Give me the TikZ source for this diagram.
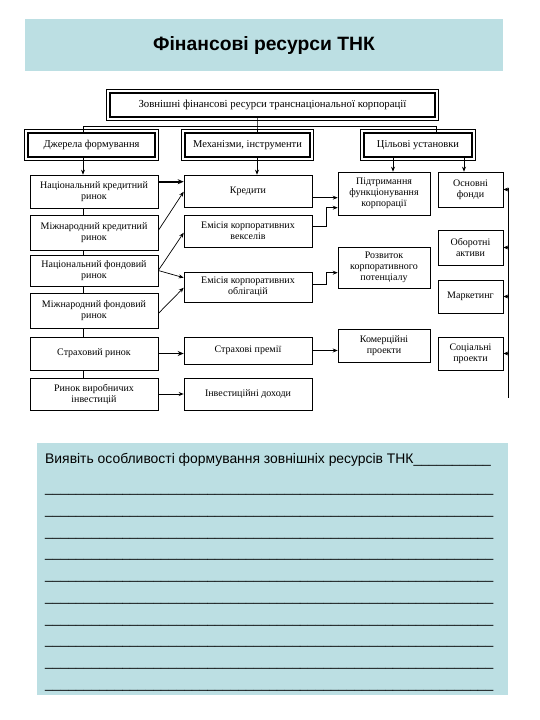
\documentclass[tikz,border=0pt]{standalone}
\usepackage{fontspec}
\setmainfont{Liberation Serif}
\newfontfamily\arialf{Liberation Sans}
\usetikzlibrary{arrows.meta,calc}
\definecolor{panel}{RGB}{188,223,227}
\def\ulrow{\_\_\_\_\_\_\_\_\_\_\_\_\_\_\_\_\_\_\_\_\_\_\_\_\_\_\_\_\_\_\_\_\_\_\_\_\_\_\_\_\_\_\_\_\_\_\_\_\_\_\_\_\_\_\_\_\_\_}
\begin{document}
\begin{tikzpicture}[x=1pt,y=-1pt,
  box/.style={draw, line width=0.6pt, align=center, font=\fontsize{10}{11}\selectfont, inner sep=1pt},
  hdr/.style={draw, line width=2pt, align=center, font=\fontsize{10.5}{11.5}\selectfont, inner sep=1pt, minimum height=24pt},
  conn/.style={line width=0.6pt},
  arr/.style={line width=0.7pt,-{Stealth[length=5pt,width=4pt]}},
  tarr/.style={line width=1.8pt,-{Stealth[length=6pt,width=5pt]}},
]
\useasboundingbox[fill=white] (0,0) rectangle (540,720);
% title band
\fill[panel] (25,19) rectangle (503,71);
\node[font=\arialf\bfseries\fontsize{19.3}{21}\selectfont] (title) at (264,46) {Фінансові ресурси ТНК};

% header boxes
\node[hdr, minimum width=325pt, font=\fontsize{10.8}{12}\selectfont] (top) at (272.5,105) {Зовнішні фінансові ресурси транснаціональної корпорації};
\node[hdr, minimum width=127pt] (h1) at (91.5,145) {Джерела формування};
\node[hdr, minimum width=125pt] (h2) at (247.5,145) {Механізми, інструменти};
\node[hdr, minimum width=108pt] (h3) at (418,145) {Цільові установки};
\foreach \n in {top,h1,h2,h3}
  \draw[line width=0.5pt] ($(\n.north west)+(-2.5,-2.5)$) rectangle ($(\n.south east)+(2.5,2.5)$);

% left column
\node[box, minimum width=128pt, minimum height=33pt] (b1) at (94,191.5) {Національний кредитний\\ринок};
\node[box, minimum width=128pt, minimum height=35pt] (b2) at (94,232.5) {Міжнародний кредитний\\ринок};
\node[box, minimum width=128pt, minimum height=31pt] (b3) at (94,270.5) {Національний фондовий\\ринок};
\node[box, minimum width=128pt, minimum height=35pt] (b4) at (94,310.5) {Міжнародний фондовий\\ринок};
\node[box, minimum width=128pt, minimum height=33pt] (b5) at (94,353.5) {Страховий ринок};
\node[box, minimum width=128pt, minimum height=32pt] (b6) at (94,394) {Ринок виробничих\\інвестицій};

% middle column
\node[box, minimum width=128pt, minimum height=32pt] (m1) at (248,191) {Кредити};
\node[box, minimum width=128pt, minimum height=32pt] (m2) at (248,231) {Емісія корпоративних\\векселів};
\node[box, minimum width=128pt, minimum height=30pt] (m3) at (248,287) {Емісія корпоративних\\облігацій};
\node[box, minimum width=128pt, minimum height=27pt] (m4) at (248,350.5) {Страхові премії};
\node[box, minimum width=128pt, minimum height=32pt] (m5) at (248,394) {Інвестиційні доходи};

% right-middle column
\node[box, minimum width=92pt, minimum height=43pt] (r1) at (384,193.5) {Підтримання\\функціонування\\корпорації};
\node[box, minimum width=92pt, minimum height=41pt] (r2) at (384,267.5) {Розвиток\\корпоративного\\потенціалу};
\node[box, minimum width=92pt, minimum height=33pt] (r3) at (384,345.5) {Комерційні\\проекти};

% far right column
\node[box, minimum width=65pt, minimum height=35pt] (f1) at (470.5,189.5) {Основні\\фонди};
\node[box, minimum width=65pt, minimum height=35pt] (f2) at (470.5,247.5) {Оборотні\\активи};
\node[box, minimum width=65pt, minimum height=33pt] (f3) at (470.5,296.5) {Маркетинг};
\node[box, minimum width=65pt, minimum height=33pt] (f4) at (470.5,353.5) {Соціальні\\проекти};

% helper coordinates
\coordinate (spine) at (83,0);
\coordinate (tj) at (257,126);
\coordinate (hl) at (83,126);
\coordinate (hr) at (436,126);
\coordinate (x393) at (393,0);
\coordinate (x464) at (464,0);
\coordinate (bt) at (508,188);
\coordinate (bb) at (508,398);

% top connectors
\draw[conn] (top.south -| tj) -- (tj) -- (h2.north -| tj);
\draw[conn] (h1.north -| hl) -- (hl) -- (hr) -- (h3.north -| hr);

% header arrows down
\draw[arr] (h1.south -| spine) -- (b1.north -| spine);
\draw[arr] (h2.south -| tj) -- (m1.north -| tj);
\draw[arr] (h3.south -| x393) -- (r1.north -| x393);
\draw[arr] (h3.south -| x464) -- (f1.north -| x464);

% left spine
\foreach \a/\b in {b1/b2,b2/b3,b3/b4,b4/b5,b5/b6}
  \draw[conn] (\a.south -| spine) -- (\b.north -| spine);

% left -> middle
\draw[tarr] ($(b1.north east)+(0,7)$) -- ($(m1.north west)+(0,7)$);
\draw[arr] ($(b2.east)+(0,-2)$) -- ($(m1.north west)+(0,17)$);
\draw[arr] (b3.east) -- ($(m2.north west)+(0,18)$);
\draw[arr] (b3.east) -- ($(m3.north west)+(0,6)$);
\draw[arr] ($(b4.east)+(0,3)$) -- ($(m3.north west)+(0,16)$);
\draw[tarr] (b5.east) -- (m4.west |- b5.east);
\draw[arr, line width=1pt] (b6.east) -- (m5.west);

% middle -> right
\draw[arr] ($(m1.north east)+(0,23)$) -- ($(r1.north west)+(0,26)$);
\draw[arr] ($(m2.north east)+(0,12)$) -- ++(14,0) |- ($(r1.north west)+(0,36)$);
\draw[arr] ($(m3.north east)+(0,13)$) -- ++(14,0) |- ($(r2.north west)+(0,26)$);
\draw[arr] (m4.east) -- (r3.west |- m4.east);

% right bus
\draw[conn] (bt) -- (bb);
\foreach \f in {f1,f2,f3,f4}
  \draw[arr] (\f.east -| bt) -- (\f.east);

% bottom panel
\fill[panel] (37,443) rectangle (508,695);
\node[anchor=base west, inner sep=0, font=\arialf\fontsize{13.9}{16}\selectfont] (q) at (45,463) {Виявіть особливості формування зовнішніх ресурсів ТНК\_\_\_\_\_\_\_\_\_\_};
\foreach \i in {0,...,9}
  \node[anchor=base west, inner sep=0, font=\arialf\fontsize{13.9}{16}\selectfont] (row\i) at (45,{492.5+21.78*\i}) {\ulrow};
\end{tikzpicture}
\end{document}
